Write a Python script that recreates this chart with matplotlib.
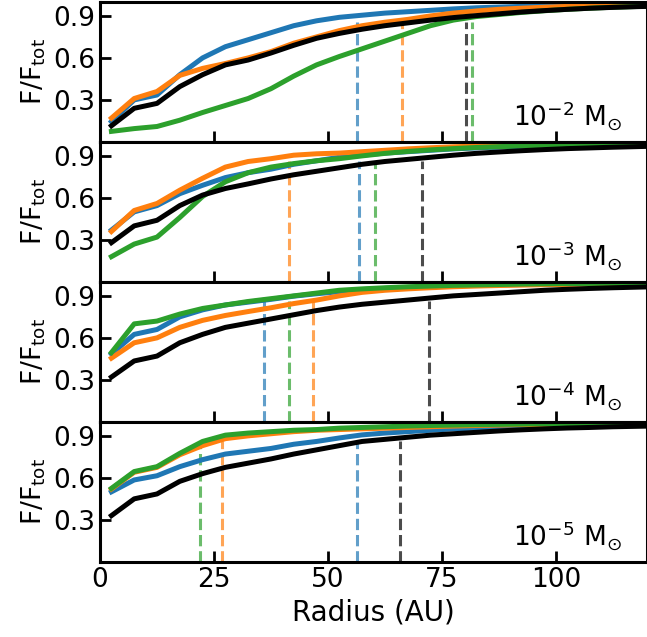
import numpy as np
import matplotlib
matplotlib.use("Agg")
import matplotlib.pyplot as plt

# radii of the annuli (AU)
radius = [2.5, 7.5, 12.5, 17.5, 22.5, 27.5, 32.5, 37.5, 42.5, 47.5, 52.5, 57.5,
          62.5, 67.5, 72.5, 77.5, 82.5, 87.5, 92.5, 97.5, 102.5, 107.5, 112.5, 117.5, 122.5]

mass_labels = [r"$10^{-2}\ \mathrm{M}_{\odot}$", r"$10^{-3}\ \mathrm{M}_{\odot}$",
               r"$10^{-4}\ \mathrm{M}_{\odot}$", r"$10^{-5}\ \mathrm{M}_{\odot}$"]

# cumulative flux fractions, one list per panel (blue, orange, green, black)
blue_1 = [.145, .30, .335, .48, .60, .68, .73, .78, .83, .865, .89, .905,
          .92, .93, .94, .95, .958, .963, .968, .972, .976, .979, .982, .985, .987]
orange_1 = [.17, .31, .36, .475, .525, .56, .60, .645, .705, .75, .795, .83,
            .855, .875, .90, .92, .935, .947, .955, .962, .968, .972, .976, .98, .983]
green_1 = [.075, .095, .11, .155, .21, .26, .31, .38, .47, .55, .61, .665,
           .72, .775, .83, .87, .895, .91, .925, .937, .947, .955, .962, .967, .972]
black_1 = [.115, .24, .275, .395, .48, .55, .585, .635, .69, .74, .775, .805,
           .83, .85, .87, .888, .902, .915, .928, .938, .947, .955, .961, .966, .97]

blue_2 = [.37, .50, .545, .63, .69, .745, .78, .805, .84, .865, .89, .905,
          .92, .93, .94, .95, .957, .963, .968, .972, .976, .979, .982, .985, .987]
orange_2 = [.36, .51, .56, .655, .74, .82, .86, .88, .905, .915, .92, .93,
            .94, .95, .958, .965, .97, .975, .978, .981, .984, .986, .988, .99, .992]
green_2 = [.18, .27, .32, .46, .61, .715, .78, .82, .845, .865, .88, .90,
           .918, .932, .943, .952, .96, .966, .971, .975, .979, .982, .985, .988, .99]
black_2 = [.28, .40, .44, .545, .62, .667, .70, .735, .765, .79, .815, .84,
           .86, .875, .89, .905, .918, .928, .937, .945, .952, .957, .962, .966, .97]

blue_3 = [.485, .625, .66, .75, .80, .835, .855, .875, .898, .915, .93, .945,
          .953, .96, .966, .971, .975, .978, .981, .983, .985, .987, .988, .989, .99]
orange_3 = [.455, .565, .60, .675, .725, .76, .788, .815, .845, .87, .90, .925,
            .94, .95, .958, .965, .97, .974, .977, .98, .982, .984, .986, .987, .988]
green_3 = [.495, .70, .72, .77, .81, .835, .86, .88, .90, .92, .94, .95,
           .958, .965, .97, .975, .978, .981, .984, .986, .988, .989, .99, .991, .992]
black_3 = [.32, .435, .47, .565, .625, .675, .705, .735, .765, .795, .82, .84,
           .855, .87, .885, .90, .91, .92, .93, .94, .947, .953, .958, .962, .966]

blue_4 = [.50, .585, .615, .68, .73, .77, .79, .81, .84, .86, .885, .907,
          .92, .93, .94, .95, .955, .96, .965, .97, .974, .977, .98, .983, .985]
orange_4 = [.52, .64, .675, .765, .83, .88, .90, .915, .93, .94, .945, .95,
            .955, .96, .965, .97, .974, .977, .98, .982, .984, .986, .987, .988, .989]
green_4 = [.525, .645, .68, .775, .86, .905, .92, .93, .94, .945, .955, .96,
           .965, .97, .974, .977, .98, .982, .984, .986, .987, .988, .989, .99, .991]
black_4 = [.33, .45, .485, .575, .63, .675, .705, .735, .77, .80, .83, .86,
           .875, .89, .905, .915, .925, .935, .943, .95, .956, .96, .965, .968, .971]

# radius enclosing 90% of the flux (blue, orange, green, black)
r90_1 = [56.3, 66.2, 81.7, 80.4]
r90_2 = [56.9, 41.5, 60.4, 70.6]
r90_3 = [36.0, 46.7, 41.5, 72.1]
r90_4 = [56.4, 26.7, 22.0, 65.9]

panels = [
    (blue_1, orange_1, green_1, black_1, r90_1),
    (blue_2, orange_2, green_2, black_2, r90_2),
    (blue_3, orange_3, green_3, black_3, r90_3),
    (blue_4, orange_4, green_4, black_4, r90_4),
]
colors = ["C0", "C1", "C2", "k"]

fs = 19
fig, axes = plt.subplots(4, 1, figsize=(6.47, 6.37), dpi=100, sharex=True)
fig.subplots_adjust(left=0.1546, right=1.0, top=0.997, bottom=0.118, hspace=0)

for ax, (b, o, g, k, r90), lab in zip(axes, panels, mass_labels):
    for r, c in zip(r90, colors):
        ax.plot([r, r], [0, 0.86], ls="--", lw=2.2, color=c, alpha=0.7, zorder=1)
    for ys, c in zip((b, o, g, k), colors):
        ax.plot(radius, ys, color=c, lw=3.6, zorder=2)
    ax.set_xlim(0, 120)
    ax.set_ylim(0, 1)
    ax.set_yticks([0.3, 0.6, 0.9])
    ax.set_xticks([0, 25, 50, 75, 100])
    ax.tick_params(direction="in", length=8, width=2, labelsize=fs)
    for s in ax.spines.values():
        s.set_linewidth(2.2)
    ax.set_ylabel(r"F/F$_{\rm tot}$", fontsize=fs)
    ax.text(0.955, 0.11, lab, transform=ax.transAxes, ha="right", va="baseline",
            fontsize=fs)

axes[-1].set_xlabel("Radius (AU)", fontsize=fs + 1)

fig.savefig("out.png", dpi=100)
